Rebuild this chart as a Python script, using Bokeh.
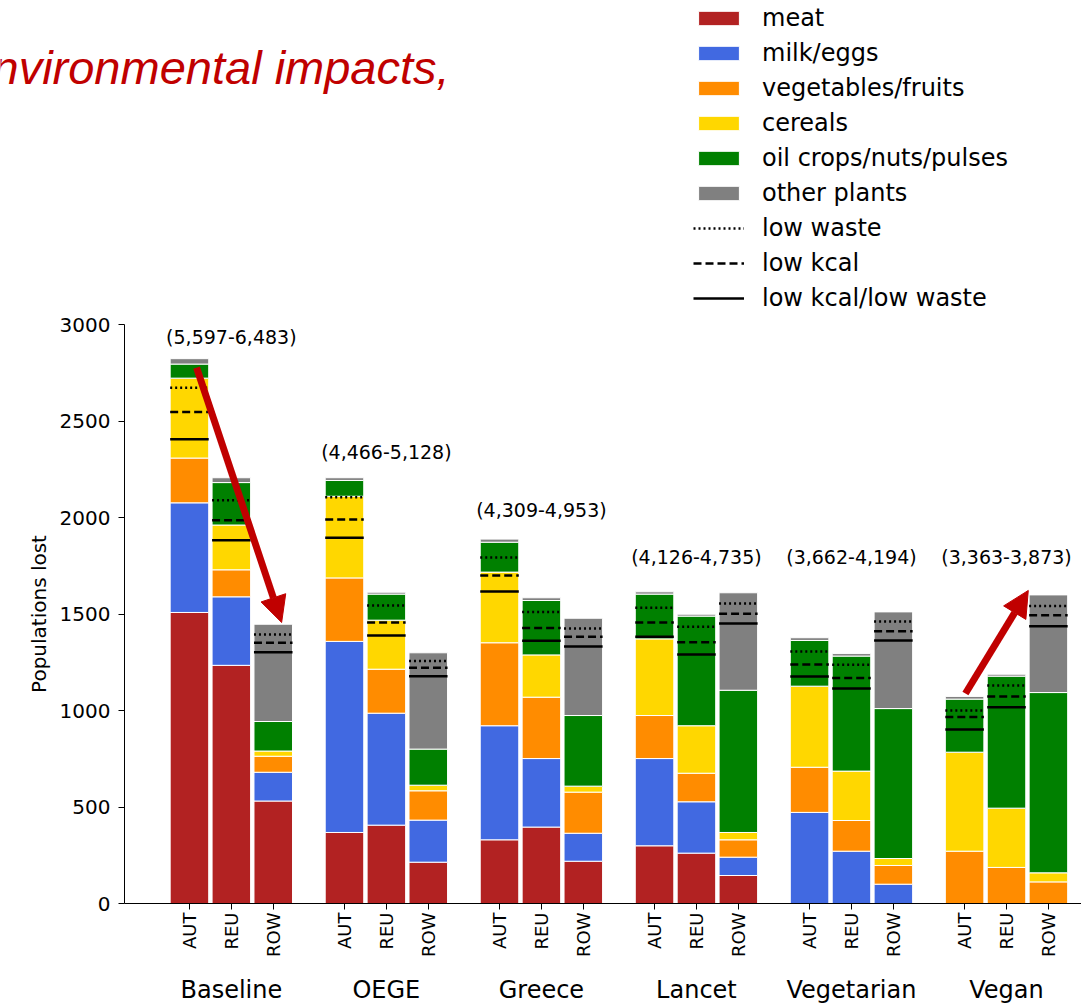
import math
from bokeh.plotting import figure
from bokeh.layouts import column
from bokeh.models import (ColumnDataSource, FixedTicker, Legend, LegendItem,
                          Label, Arrow, NormalHead, Range1d)
from bokeh.core.properties import value
from bokeh.embed import file_html
from bokeh.resources import INLINE

# ---------------- data ----------------
diets = ["Baseline", "OEGE", "Greece", "Lancet", "Vegetarian", "Vegan"]
regions = ["AUT", "REU", "ROW"]
categories = ["meat", "milk/eggs", "vegetables/fruits", "cereals",
              "oil crops/nuts/pulses", "other plants"]

# bars ordered diet by diet, AUT / REU / ROW inside each diet
meat   = [1508, 1234, 531, 368, 406, 214, 330, 396, 219, 299, 261, 145, 0, 0, 0, 0, 0, 0]
milk   = [568, 355, 149, 990, 580, 218, 591, 355, 145, 452, 266, 95, 472, 271, 100, 0, 0, 0]
veg    = [232, 140, 83, 329, 228, 152, 430, 318, 213, 223, 148, 90, 234, 159, 97, 271, 187, 112]
cereal = [414, 232, 27, 423, 254, 29, 366, 219, 31, 397, 246, 38, 420, 256, 36, 513, 307, 47]
oil    = [73, 220, 153, 82, 135, 187, 155, 282, 366, 232, 568, 737, 237, 596, 777, 275, 684, 934]
other  = [28, 25, 504, 14, 10, 499, 16, 14, 504, 12, 10, 505, 14, 13, 501, 14, 10, 506]

low_waste = [2672, 2089, 1394, 2105, 1544, 1257, 1793, 1511, 1425, 1532, 1434, 1554,
             1306, 1237, 1461, 1000, 1130, 1542]
low_kcal  = [2547, 1986, 1351, 1990, 1456, 1221, 1699, 1428, 1382, 1456, 1354, 1501,
             1238, 1168, 1411, 966, 1073, 1494]
low_both  = [2405, 1882, 1302, 1895, 1389, 1178, 1617, 1361, 1332, 1382, 1290, 1451,
             1176, 1114, 1363, 902, 1017, 1437]

range_labels = ["(5,597-6,483)", "(4,466-5,128)", "(4,309-4,953)",
                "(4,126-4,735)", "(3,662-4,194)", "(3,363-3,873)"]
y_ticks = [0, 500, 1000, 1500, 2000, 2500, 3000]

# ---------------- layout helpers (not data) ----------------
GROUP_STEP = 37
BAR_STEP = 10
BAR_W = 9.2
range_label_y = [2933, 2337, 2041, 1793, 1793, 1793]

colors = ["#B22222", "#4169E1", "#FF8C00", "#FFD700", "#008000", "#808080"]
keys = ["meat", "milk", "veg", "cereal", "oil", "other"]
FONT = "DejaVu Sans"
red = "#C00000"
W = 1081
HEAD_H = 312
CHART_H = 655
GROUP_H = 1006 - HEAD_H - CHART_H
LEFT = 124

xs = [g * GROUP_STEP + r * BAR_STEP for g in range(len(diets)) for r in range(len(regions))]
xlabels = [regions[r] for g in range(len(diets)) for r in range(len(regions))]
group_x = [g * GROUP_STEP + BAR_STEP for g in range(len(diets))]

src = ColumnDataSource(dict(
    x=xs, meat=meat, milk=milk, veg=veg, cereal=cereal, oil=oil, other=other,
    x0=[x - BAR_W / 2 for x in xs], x1=[x + BAR_W / 2 for x in xs],
    lw=low_waste, lk=low_kcal, lb=low_both,
))

# ================= main chart =================
xr = Range1d(-15.5, 212.9)
p = figure(width=W, height=CHART_H,
           x_range=xr, y_range=Range1d(0, 3000),
           output_backend="svg", toolbar_location=None,
           min_border_left=LEFT, min_border_right=0,
           min_border_top=12, min_border_bottom=64)
p.outline_line_color = None
p.xgrid.visible = False
p.ygrid.visible = False

bars = p.vbar_stack(keys, x="x", width=BAR_W, source=src, color=colors,
                    line_color="white", line_width=1)

line_styles = [("lw", "2 3"), ("lk", "8 4"), ("lb", "solid")]
for col, dash in line_styles:
    p.segment(x0="x0", y0=col, x1="x1", y1=col, source=src,
              line_color="black", line_width=2.5, line_dash=dash)

# range annotations
p.text(x=group_x, y=range_label_y, text=range_labels, text_align="center",
       text_baseline="middle", text_font=value(FONT), text_font_size="19px",
       text_color="black")

# arrows (from top of AUT bar to top of ROW bar)
totals = [sum(v) for v in zip(meat, milk, veg, cereal, oil, other)]
p.add_layout(Arrow(end=NormalHead(size=26, fill_color=red, line_color=red),
                   x_start=xs[0] + 1.7, y_start=totals[0] - 46,
                   x_end=xs[2] + 2, y_end=totals[2] + 9,
                   line_color=red, line_width=7))
p.add_layout(Arrow(end=NormalHead(size=26, fill_color=red, line_color=red),
                   x_start=xs[15] + 0.2, y_start=totals[15] + 15,
                   x_end=xs[17] - 4.8, y_end=totals[17] + 23,
                   line_color=red, line_width=7))

# y axis
ya = p.yaxis[0]
ya.ticker = FixedTicker(ticks=y_ticks)
ya.axis_label = "Populations lost"
ya.axis_label_text_font = FONT
ya.axis_label_text_font_style = "normal"
ya.axis_label_text_font_size = "20px"
ya.axis_label_text_color = "black"
ya.axis_label_standoff = 6
ya.major_label_text_font = FONT
ya.major_label_text_font_size = "20px"
ya.major_label_text_color = "black"
ya.major_label_standoff = 8
ya.major_tick_out = 6
ya.major_tick_in = 0
ya.minor_tick_line_color = None
ya.axis_line_color = "black"
ya.major_tick_line_color = "black"

# x axis (regions)
xa = p.xaxis[0]
xa.axis_label = None
xa.ticker = FixedTicker(ticks=xs)
xa.major_label_overrides = {x: l for x, l in zip(xs, xlabels)}
xa.major_label_orientation = math.pi / 2
xa.major_label_text_font = FONT
xa.major_label_text_font_size = "18px"
xa.major_label_text_color = "black"
xa.major_label_standoff = 3
xa.major_tick_out = 6
xa.major_tick_in = 0
xa.minor_tick_line_color = None
xa.axis_line_color = "black"
xa.major_tick_line_color = "black"

# ================= diet names row (shares the chart's x scale) =================
g = figure(width=W, height=GROUP_H, x_range=xr, y_range=Range1d(0, GROUP_H),
           output_backend="svg", toolbar_location=None,
           x_axis_location=None, y_axis_location=None,
           min_border_left=LEFT, min_border_right=0,
           min_border_top=0, min_border_bottom=0)
g.outline_line_color = None
g.xgrid.visible = False
g.ygrid.visible = False
g.text(x=group_x, y=[GROUP_H - 22] * len(diets), text=diets, text_align="center",
       text_baseline="middle", text_font=value(FONT), text_font_size="24px",
       text_color="black")

# ================= header: title fragment + legend =================
h = figure(width=W, height=HEAD_H, x_range=Range1d(0, W), y_range=Range1d(0, HEAD_H),
           output_backend="svg", toolbar_location=None,
           x_axis_location=None, y_axis_location=None,
           min_border=0, min_border_left=0, min_border_right=0,
           min_border_top=0, min_border_bottom=0)
h.frame_align = False
h.outline_line_color = None
h.xgrid.visible = False
h.ygrid.visible = False

# legend proxies carrying the same styles as the chart's renderers (draw nothing)
nan = float("nan")
proxy = ColumnDataSource(dict(x=[nan], top=[nan], x0=[nan], y0=[nan], x1=[nan], y1=[nan]))
items = []
for c, col in zip(categories, colors):
    r = h.vbar(x="x", top="top", width=1, source=proxy, color=col,
               line_color="white", line_width=1)
    items.append(LegendItem(label=c, renderers=[r]))
for lab, (col, dash) in zip(["low waste", "low kcal", "low kcal/low waste"], line_styles):
    r = h.segment(x0="x0", y0="y0", x1="x1", y1="y1", source=proxy,
                  line_color="black", line_width=2.5, line_dash=dash)
    items.append(LegendItem(label=lab, renderers=[r]))

legend = Legend(items=items, location=(693, -1), orientation="vertical",
                label_text_font=FONT, label_text_font_size="24px",
                label_text_color="black",
                glyph_width=51, glyph_height=18, label_standoff=18,
                label_height=30, spacing=5, padding=0, margin=0,
                border_line_alpha=0, background_fill_alpha=0)
h.add_layout(legend)

h.add_layout(Label(x=-8, y=HEAD_H - 67, x_units="screen", y_units="screen",
                   text="nvironmental impacts,", text_font="Liberation Sans",
                   text_font_style="italic", text_font_size="47px",
                   text_color=red, text_baseline="alphabetic"))

layout = column(h, p, g, spacing=0)
open("out.html", "w").write(file_html(layout, INLINE))
